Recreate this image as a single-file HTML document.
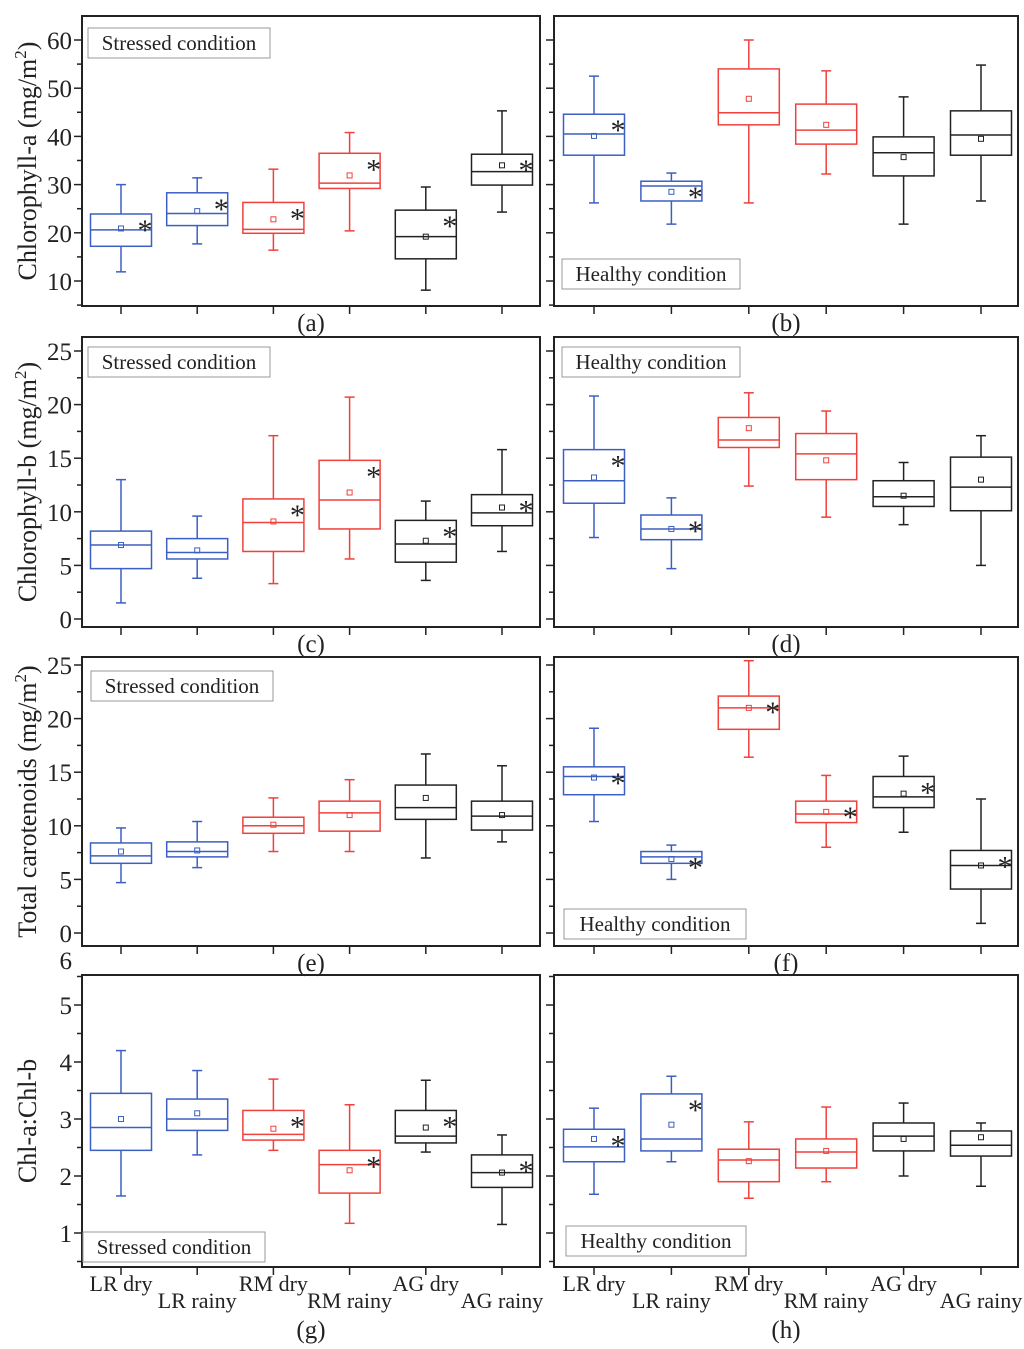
<!DOCTYPE html>
<html><head><meta charset="utf-8">
<style>
html,body{margin:0;padding:0;background:#fff;}
svg{display:block;font-family:"Liberation Serif",serif;}
</style></head>
<body>
<svg id="chart" width="1024" height="1349" viewBox="0 0 1024 1349" xmlns="http://www.w3.org/2000/svg">
</svg>
<script>
// categories
const categories = ["LR dry","LR rainy","RM dry","RM rainy","AG dry","AG rainy"];
const colors = ["#3c5fc4","#3c5fc4","#f0413c","#f0413c","#222222","#222222"];
// each series: [whiskerLow, q1, median, q3, whiskerHigh, mean]
const seriesA = [[11.9,17.2,20.6,23.9,30,20.9],[17.7,21.5,24,28.3,31.4,24.5],[16.4,19.9,20.7,26.3,33.2,22.8],[20.4,29.2,30.3,36.5,40.8,31.9],[8.1,14.6,19.2,24.7,29.5,19.2],[24.3,29.9,32.7,36.3,45.3,34]];
const seriesB = [[26.2,36.1,40.5,44.6,52.5,40.1],[21.8,26.6,29.7,30.7,32.4,28.5],[26.2,42.4,44.9,54,60,47.8],[32.2,38.4,41.3,46.7,53.6,42.4],[21.8,31.8,36.6,39.9,48.2,35.7],[26.6,36.1,40.3,45.3,54.8,39.5]];
const seriesC = [[1.5,4.7,6.9,8.2,13,6.9],[3.8,5.6,6.2,7.5,9.6,6.4],[3.3,6.3,9,11.2,17.1,9.1],[5.6,8.4,11.1,14.8,20.7,11.8],[3.6,5.3,7,9.2,11,7.3],[6.3,8.7,9.9,11.6,15.8,10.4]];
const seriesD = [[7.6,10.8,12.9,15.8,20.8,13.2],[4.7,7.4,8.4,9.7,11.3,8.4],[12.4,16,16.7,18.8,21.1,17.8],[9.5,13,15.4,17.3,19.4,14.8],[8.8,10.5,11.4,12.9,14.6,11.5],[5,10.1,12.3,15.1,17.1,13]];
const seriesE = [[4.7,6.5,7.2,8.4,9.8,7.6],[6.1,7.1,7.6,8.5,10.4,7.7],[7.6,9.3,10,10.8,12.6,10.1],[7.6,9.5,11.2,12.3,14.3,11],[7,10.6,11.7,13.8,16.7,12.6],[8.5,9.6,10.9,12.3,15.6,11]];
const seriesF = [[10.4,12.9,14.6,15.5,19.1,14.5],[5,6.5,7.1,7.6,8.2,6.9],[16.4,19,21,22.1,25.4,21],[8,10.3,11.1,12.3,14.7,11.3],[9.4,11.7,12.7,14.6,16.5,13],[0.9,4.1,6.3,7.7,12.5,6.3]];
const seriesG = [[1.65,2.45,2.85,3.45,4.2,3.0],[2.37,2.8,3.0,3.35,3.85,3.1],[2.45,2.63,2.73,3.15,3.7,2.83],[1.17,1.7,2.2,2.45,3.25,2.1],[2.42,2.58,2.7,3.15,3.68,2.85],[1.15,1.8,2.06,2.37,2.72,2.06]];
const seriesH = [[1.68,2.25,2.51,2.82,3.19,2.65],[2.25,2.44,2.65,3.44,3.75,2.9],[1.61,1.9,2.28,2.47,2.95,2.26],[1.9,2.14,2.42,2.65,3.21,2.44],[2.0,2.44,2.7,2.93,3.28,2.65],[1.82,2.35,2.54,2.79,2.93,2.68]];
// significance stars
const starsA=[1,1,1,1,1,1], starsB=[1,1,0,0,0,0], starsC=[0,0,1,1,1,1], starsD=[1,1,0,0,0,0];
const starsE=[0,0,0,0,0,0], starsF=[1,1,1,1,1,1], starsG=[0,0,1,1,1,1], starsH=[1,1,0,0,0,0];
// tick labels
const ticksRow1=[10,20,30,40,50,60];
const ticksRow23=[0,5,10,15,20,25];
const ticksRow4=[1,2,3,4,5];

const svg=document.getElementById('chart');
const NS='http://www.w3.org/2000/svg';
function mk(tag,attrs,parent){const e=document.createElementNS(NS,tag);for(const k in attrs)e.setAttribute(k,attrs[k]);(parent||svg).appendChild(e);return e;}

const cols=[{x0:82,x1:540,c0:121,dx:76.2},{x0:554,x1:1018,c0:594,dx:77.4}];
const rows=[
 {top:16,bot:306,v0:10,y0:281,ppu:4.82,ticks:ticksRow1,minor:5,title:'Chlorophyll-a (mg/m',sup:true},
 {top:337,bot:627,v0:0,y0:619,ppu:10.72,ticks:ticksRow23,minor:2.5,title:'Chlorophyll-b (mg/m',sup:true},
 {top:657,bot:946,v0:0,y0:933,ppu:10.72,ticks:ticksRow23,minor:2.5,title:'Total carotenoids (mg/m',sup:true},
 {top:975,bot:1267,v0:1,y0:1233,ppu:57,ticks:ticksRow4,minor:0.5,title:'Chl-a:Chl-b',sup:false}
];
const panels=[
 {r:0,c:0,data:seriesA,stars:starsA,lab:'(a)',leg:'Stressed condition',lx:88,ly:28,lw:182},
 {r:0,c:1,data:seriesB,stars:starsB,lab:'(b)',leg:'Healthy condition',lx:562,ly:259,lw:178},
 {r:1,c:0,data:seriesC,stars:starsC,lab:'(c)',leg:'Stressed condition',lx:88,ly:347,lw:182},
 {r:1,c:1,data:seriesD,stars:starsD,lab:'(d)',leg:'Healthy condition',lx:562,ly:347,lw:178},
 {r:2,c:0,data:seriesE,stars:starsE,lab:'(e)',leg:'Stressed condition',lx:91,ly:671,lw:182},
 {r:2,c:1,data:seriesF,stars:starsF,lab:'(f)',leg:'Healthy condition',lx:564,ly:909,lw:182},
 {r:3,c:0,data:seriesG,stars:starsG,lab:'(g)',leg:'Stressed condition',lx:83,ly:1232,lw:182},
 {r:3,c:1,data:seriesH,stars:starsH,lab:'(h)',leg:'Healthy condition',lx:566,ly:1226,lw:180}
];

panels.forEach((p,pi)=>{
 const R=rows[p.r],C=cols[p.c];
 const yS=v=>R.y0-(v-R.v0)*R.ppu;
 const xS=i=>C.c0+i*C.dx;
 const g=mk('g',{});
 
 
 const frame=mk('rect',{x:C.x0,y:R.top,width:C.x1-C.x0,height:R.bot-R.top,fill:'none',stroke:'#222','stroke-width':2},g);
 
 
 const vmin=R.v0-(R.bot-R.y0)/R.ppu, vmax=R.v0+(R.y0-R.top)/R.ppu;
 for(let v=Math.ceil(vmin/R.minor)*R.minor; v<=vmax+1e-9; v+=R.minor){
  const y=yS(v);
  const major=R.ticks.some(t=>Math.abs(t-v)<1e-6);
  const tk=mk('line',{x1:C.x0-(major?8:5),x2:C.x0,y1:y,y2:y,stroke:'#222','stroke-width':1.5},g);
  
  
  if(major&&p.c===0){
   const t=mk('text',{x:C.x0-10,y:y+9,'text-anchor':'end','font-size':25,fill:'#222'},g);
   t.textContent=v;
   
   
  }
 }
 categories.forEach((c,i)=>{
  const tk=mk('line',{x1:xS(i),x2:xS(i),y1:R.bot,y2:R.bot+8,stroke:'#222','stroke-width':1.5},g);
  
  
 });
 p.data.forEach((d,i)=>{
  const col=colors[i],x=xS(i),hw=30.5;
  const bg=mk('g',{stroke:col,fill:'none','stroke-width':1.5},g);
  
  
  mk('line',{x1:x,x2:x,y1:yS(d[0]),y2:yS(d[1])},bg);
  mk('line',{x1:x,x2:x,y1:yS(d[3]),y2:yS(d[4])},bg);
  mk('line',{x1:x-5,x2:x+5,y1:yS(d[0]),y2:yS(d[0])},bg);
  mk('line',{x1:x-5,x2:x+5,y1:yS(d[4]),y2:yS(d[4])},bg);
  mk('rect',{x:x-hw,y:yS(d[3]),width:2*hw,height:yS(d[1])-yS(d[3])},bg);
  mk('line',{x1:x-hw,x2:x+hw,y1:yS(d[2]),y2:yS(d[2])},bg);
  mk('rect',{x:x-2.5,y:yS(d[5])-2.5,width:5,height:5,'stroke-width':1},bg);
  if(p.stars[i]){
   const s=mk('text',{x:x+24,y:yS(d[3])+26,'text-anchor':'middle','font-size':30,fill:'#222',stroke:'none'},g);
   s.textContent='*';
   
   
  }
 });
 const lg=mk('g',{},g);
 
 
 mk('rect',{x:p.lx,y:p.ly,width:p.lw,height:30,fill:'#fff',stroke:'#999','stroke-width':1},lg);
 const lt=mk('text',{x:p.lx+p.lw/2,y:p.ly+22,'text-anchor':'middle','font-size':21,fill:'#222'},lg);
 lt.textContent=p.leg;
 const pl=mk('text',{x:(C.x0+C.x1)/2,y:p.r===3?1338:R.bot+25,'text-anchor':'middle','font-size':25,fill:'#222'},g);
 pl.textContent=p.lab;
 
 
 if(p.r===3){
  categories.forEach((c,i)=>{
   const t=mk('text',{x:xS(i),y:R.bot+(i%2?41:24),'text-anchor':'middle','font-size':22,fill:'#222'},g);
   t.textContent=c;
   
   
  });
 }
});
rows.forEach((R,ri)=>{
 const cy=(R.top+R.bot)/2;
 const t=mk('text',{x:0,y:0,transform:`translate(36,${cy}) rotate(-90)`,'text-anchor':'middle','font-size':26,fill:'#222'});
 
 
 if(R.sup){
  t.appendChild(document.createTextNode(R.title));
  const s=document.createElementNS(NS,'tspan');s.setAttribute('dy','-10');s.setAttribute('font-size','17');s.textContent='2';t.appendChild(s);
  const s2=document.createElementNS(NS,'tspan');s2.setAttribute('dy','10');s2.textContent=')';t.appendChild(s2);
 } else t.textContent=R.title;
});
const six=mk('text',{x:72,y:969,'text-anchor':'end','font-size':25,fill:'#222'});
six.textContent='6';


</script>
</body></html>
